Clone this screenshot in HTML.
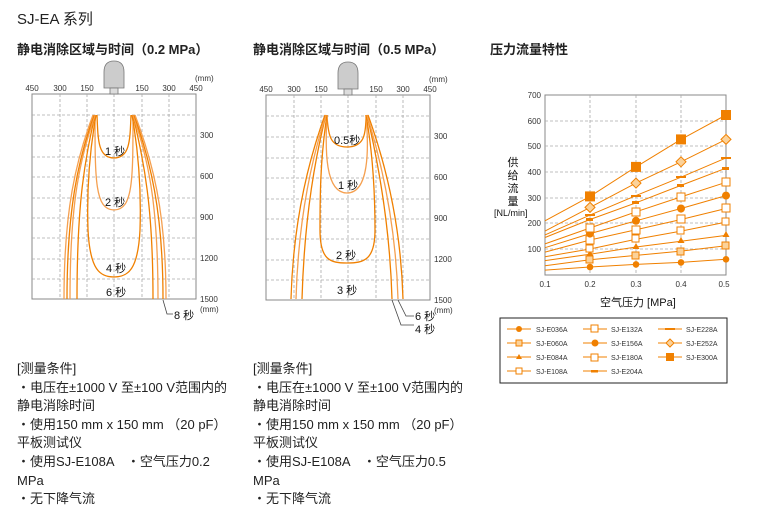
<!DOCTYPE html>
<html><head><meta charset="utf-8"><style>
body{margin:0;width:757px;height:526px;background:#fff;font-family:"Liberation Sans","Noto Sans CJK SC",sans-serif;color:#222;overflow:hidden;position:relative}
.t{position:absolute;white-space:nowrap}
.h{font-weight:bold;font-size:13px}
.p{font-size:13px;line-height:18.6px}
</style></head><body>
<div class="t" style="left:17px;top:8px;font-size:15px">SJ-EA 系列</div>
<div class="t h" style="left:17px;top:39px">静电消除区域与时间（0.2 MPa）</div>
<div class="t h" style="left:253px;top:39px">静电消除区域与时间（0.5 MPa）</div>
<div class="t h" style="left:490px;top:39px">压力流量特性</div>
<div class="t p" style="left:17px;top:360px">[测量条件]<br>・电压在±1000 V 至±100 V范围内的<br>静电消除时间<br>・使用150 mm x 150 mm （20 pF）<br>平板测试仪<br>・使用SJ-E108A　・空气压力0.2<br>MPa<br>・无下降气流</div>
<div class="t p" style="left:253px;top:360px">[测量条件]<br>・电压在±1000 V 至±100 V范围内的<br>静电消除时间<br>・使用150 mm x 150 mm （20 pF）<br>平板测试仪<br>・使用SJ-E108A　・空气压力0.5<br>MPa<br>・无下降气流</div>
<svg width="757" height="526" style="position:absolute;left:0;top:0" font-family="Liberation Sans, Noto Sans CJK SC, sans-serif">
<defs>
<g id="grid">
<rect x="0" y="0" width="164" height="205" fill="#fff" stroke="#888" stroke-width="1"/>
<g stroke="#aaa" stroke-dasharray="3,2" stroke-width="0.8">
<line x1="28" y1="0" x2="28" y2="205"/><line x1="55" y1="0" x2="55" y2="205"/><line x1="82" y1="0" x2="82" y2="205"/><line x1="110" y1="0" x2="110" y2="205"/><line x1="137" y1="0" x2="137" y2="205"/>
<line x1="0" y1="21" x2="164" y2="21"/><line x1="0" y1="42" x2="164" y2="42"/><line x1="0" y1="63" x2="164" y2="63"/><line x1="0" y1="83" x2="164" y2="83"/><line x1="0" y1="104" x2="164" y2="104"/><line x1="0" y1="124" x2="164" y2="124"/><line x1="0" y1="144" x2="164" y2="144"/><line x1="0" y1="165" x2="164" y2="165"/><line x1="0" y1="185" x2="164" y2="185"/>
</g>
<g font-size="8" fill="#333">
<text x="0" y="-3" text-anchor="middle">450</text><text x="28" y="-3" text-anchor="middle">300</text><text x="55" y="-3" text-anchor="middle">150</text><text x="110" y="-3" text-anchor="middle">150</text><text x="137" y="-3" text-anchor="middle">300</text><text x="164" y="-3" text-anchor="middle">450</text>
<text x="163" y="-13">(mm)</text>
<text x="168" y="44">300</text><text x="168" y="85">600</text><text x="168" y="126">900</text><text x="168" y="167">1200</text><text x="168" y="208">1500</text>
<text x="168" y="218">(mm)</text>
</g>
<path d="M72,-22 Q72,-33 82,-33 Q92,-33 92,-22 L92,-6 L72,-6 Z" fill="#ccc" stroke="#777" stroke-width="0.8"/>
<rect x="78" y="-6" width="8" height="6" fill="#ddd" stroke="#777" stroke-width="0.8"/>
</g>
</defs>
<use href="#grid" x="32" y="94"/>
<use href="#grid" x="266" y="95"/>
<!-- left contours -->
<g fill="none" stroke-width="1.3">
<path d="M97,115 C98,140 98,158 114,158 C130,158 130,140 131,115" stroke="#f08000"/>
<path d="M95,115 C95,180 95,210 114,210 C133,210 133,180 133,115" stroke="#f5a050"/>
<path d="M96,115 C88,160 87,200 88,230 C90,270 100,277 114,277 C128,277 138,270 140,230 C141,200 140,160 132,115" stroke="#f08000"/>
<path d="M95,115 C85,160 77,200 77,299 M133,115 C143,160 153,200 153,299" stroke="#f08000"/>
<path d="M95,115 C80,160 70,200 70,299 M133,115 C148,160 158,200 158,299" stroke="#f5a050"/>
<path d="M94,115 C78,160 67,210 67,299 M134,115 C150,160 163,210 163,299" stroke="#f08000"/>
<path d="M93,115 C76,160 64,210 64,299 M135,115 C152,160 166,210 166,299" stroke="#f5a050"/>
</g>
<g font-size="11" fill="#111">
<text x="105" y="155">1 秒</text><text x="105" y="206">2 秒</text><text x="106" y="272">4 秒</text><text x="106" y="296">6 秒</text>
<path d="M163,300 L167,314 L173,314" stroke="#444" fill="none" stroke-width="0.8"/><text x="174" y="319">8 秒</text>
</g>
<!-- middle contours -->
<g fill="none" stroke-width="1.3">
<path d="M327,115 C328,135 330,147 347,147 C364,147 366,135 366,115" stroke="#f08000"/>
<path d="M327,115 C325,150 325,193 347,193 C369,193 369,150 366,115" stroke="#f5a050"/>
<path d="M327,115 C320,160 320,200 320,230 C320,260 330,263 347,263 C364,263 375,260 375,230 C375,200 374,160 366,115" stroke="#f08000"/>
<path d="M326,115 C312,170 304,230 302,299 M367,115 C380,170 390,230 392,299" stroke="#f08000"/>
<path d="M326,115 C308,170 298,230 296,299 M367,115 C384,170 396,230 398,299" stroke="#f5a050"/>
<path d="M325,115 C305,170 293,230 291,299 M368,115 C388,170 401,230 403,299" stroke="#f08000"/>
</g>
<g font-size="11" fill="#111">
<text x="334" y="144">0.5秒</text><text x="338" y="189">1 秒</text><text x="336" y="259">2 秒</text><text x="337" y="294">3 秒</text>
<path d="M398,300 L406,316 L414,316" stroke="#444" fill="none" stroke-width="0.8"/><text x="415" y="320">6 秒</text>
<path d="M392,300 L401,325 L414,325" stroke="#444" fill="none" stroke-width="0.8"/><text x="415" y="333">4 秒</text>
</g>
<!-- right chart -->
<rect x="545" y="95" width="181" height="180" fill="#fff" stroke="#888"/>
<g stroke="#aaa" stroke-dasharray="3,2" stroke-width="0.8">
<line x1="590" y1="95" x2="590" y2="275"/><line x1="636" y1="95" x2="636" y2="275"/><line x1="681" y1="95" x2="681" y2="275"/>
<line x1="545" y1="121" x2="726" y2="121"/><line x1="545" y1="146" x2="726" y2="146"/><line x1="545" y1="172" x2="726" y2="172"/><line x1="545" y1="198" x2="726" y2="198"/><line x1="545" y1="223" x2="726" y2="223"/><line x1="545" y1="249" x2="726" y2="249"/>
</g>
<g font-size="8" fill="#333" text-anchor="end">
<text x="541" y="98">700</text><text x="541" y="124">600</text><text x="541" y="149">500</text><text x="541" y="175">400</text><text x="541" y="201">300</text><text x="541" y="226">200</text><text x="541" y="252">100</text>
</g>
<g font-size="8" fill="#333" text-anchor="middle">
<text x="545" y="287">0.1</text><text x="590" y="287">0.2</text><text x="636" y="287">0.3</text><text x="681" y="287">0.4</text><text x="724" y="287">0.5</text>
</g>
<text x="600" y="306" font-size="11" fill="#111">空气压力 [MPa]</text>
<g font-size="11" fill="#111" text-anchor="middle"><text x="513" y="166">供</text><text x="513" y="179">给</text><text x="513" y="192">流</text><text x="513" y="205">量</text></g>
<text x="494" y="216" font-size="9" fill="#111">[NL/min]</text>
<g fill="none" stroke="#f08000" stroke-width="1">
<polyline points="545,270.1 590,267 636,264.4 681,262.4 726,259.3"/>
<polyline points="545,265.7 590,259.8 636,255.4 681,251.1 726,245.7"/>
<polyline points="545,260.6 590,254.2 636,247 681,241.3 726,235.4"/>
<polyline points="545,256.7 590,249 636,239.3 681,231.1 726,222.1"/>
<polyline points="545,252.1 590,240 636,229.8 681,219.5 726,208.5"/>
<polyline points="545,247.7 590,233.6 636,220.8 681,208.5 726,195.6"/>
<polyline points="545,243.9 590,228 636,211.8 681,196.9 726,182.3"/>
<polyline points="545,237.5 590,219.5 636,202.8 681,185.4 726,168.2"/>
<polyline points="545,234.9 590,215.1 636,195.6 681,177.2 726,157.9"/>
<polyline points="545,231.1 590,207.4 636,183.1 681,161.8 726,139.4"/>
<polyline points="545,220.8 590,196.4 636,166.9 681,139.4 726,115"/>
</g>
<g fill="#f08000">
<g id="dia"><circle cx="590" cy="267" r="3.3"/><circle cx="636" cy="264.4" r="3.3"/><circle cx="681" cy="262.4" r="3.3"/><circle cx="726" cy="259.3" r="3.3"/></g>
<g fill="#fbd29a" stroke="#f08000"><rect x="586" y="256" width="7" height="7"/><rect x="632" y="252" width="7" height="7"/><rect x="677" y="248" width="7" height="7"/><rect x="722" y="242" width="7" height="7"/></g>
<path d="M590,250 l3.5,6 h-7z M636,243 l3.5,6 h-7z M681,237 l3.5,6 h-7z M726,231 l3.5,6 h-7z"/>
<g fill="#fff" stroke="#f08000"><rect x="586" y="245" width="7" height="7"/><rect x="632" y="235" width="7" height="7"/><rect x="677" y="227" width="7" height="7"/><rect x="722" y="218" width="7" height="7"/></g>
<g fill="#fff" stroke="#f08000"><rect x="586" y="236" width="8" height="8"/><rect x="632" y="226" width="8" height="8"/><rect x="677" y="215" width="8" height="8"/><rect x="722" y="204" width="8" height="8"/></g>
<circle cx="590" cy="233.6" r="4"/><circle cx="636" cy="220.8" r="4"/><circle cx="681" cy="208.5" r="4"/><circle cx="726" cy="195.6" r="4"/>
<g fill="#fff" stroke="#f08000"><rect x="586" y="224" width="8" height="8"/><rect x="632" y="208" width="8" height="8"/><rect x="677" y="193" width="8" height="8"/><rect x="722" y="178" width="8" height="8"/></g>
<rect x="586" y="218" width="7" height="3"/><rect x="632" y="201" width="7" height="3"/><rect x="677" y="184" width="7" height="3"/><rect x="722" y="167" width="7" height="3"/>
<rect x="585" y="214" width="10" height="2"/><rect x="631" y="195" width="10" height="2"/><rect x="676" y="176" width="10" height="2"/><rect x="721" y="157" width="10" height="2"/>
<g fill="#fbd29a" stroke="#f08000"><path d="M590,202.4 l5,5 -5,5 -5,-5z M636,178.1 l5,5 -5,5 -5,-5z M681,156.8 l5,5 -5,5 -5,-5z M726,134.4 l5,5 -5,5 -5,-5z"/></g>
<rect x="585" y="191.4" width="10" height="10"/><rect x="631" y="161.9" width="10" height="10"/><rect x="676" y="134.4" width="10" height="10"/><rect x="721" y="110" width="10" height="10"/>
</g>
<!-- legend -->
<rect x="500" y="318" width="227" height="65" fill="#fff" stroke="#222" stroke-width="1"/>
<g font-size="7" fill="#333">
<text x="536" y="332">SJ-E036A</text><text x="536" y="346">SJ-E060A</text><text x="536" y="360">SJ-E084A</text><text x="536" y="374">SJ-E108A</text>
<text x="611" y="332">SJ-E132A</text><text x="611" y="346">SJ-E156A</text><text x="611" y="360">SJ-E180A</text><text x="611" y="374">SJ-E204A</text>
<text x="686" y="332">SJ-E228A</text><text x="686" y="346">SJ-E252A</text><text x="686" y="360">SJ-E300A</text>
</g>
<g stroke="#f08000" stroke-width="1">
<line x1="507" y1="329" x2="531" y2="329"/><line x1="507" y1="343" x2="531" y2="343"/><line x1="507" y1="357" x2="531" y2="357"/><line x1="507" y1="371" x2="531" y2="371"/>
<line x1="583" y1="329" x2="607" y2="329"/><line x1="583" y1="343" x2="607" y2="343"/><line x1="583" y1="357" x2="607" y2="357"/><line x1="583" y1="371" x2="607" y2="371"/>
<line x1="658" y1="329" x2="682" y2="329"/><line x1="658" y1="343" x2="682" y2="343"/><line x1="658" y1="357" x2="682" y2="357"/>
</g>
<g fill="#f08000">
<circle cx="519" cy="329" r="3"/>
<rect x="516" y="340" width="6" height="6" fill="#fbd29a" stroke="#f08000"/>
<path d="M519,354 l3,5 h-6z"/>
<rect x="516" y="368" width="6" height="6" fill="#fff" stroke="#f08000"/>
<rect x="591" y="325" width="7" height="7" fill="#fff" stroke="#f08000"/>
<circle cx="595" cy="343" r="3.5"/>
<rect x="591" y="354" width="7" height="7" fill="#fff" stroke="#f08000"/>
<rect x="591" y="370" width="7" height="2.5"/>
<rect x="665" y="328" width="10" height="2"/>
<path d="M670,339 l4,4 -4,4 -4,-4z" fill="#fbd29a" stroke="#f08000"/>
<rect x="666" y="353" width="8" height="8"/>
</g>
</svg>
</body></html>
